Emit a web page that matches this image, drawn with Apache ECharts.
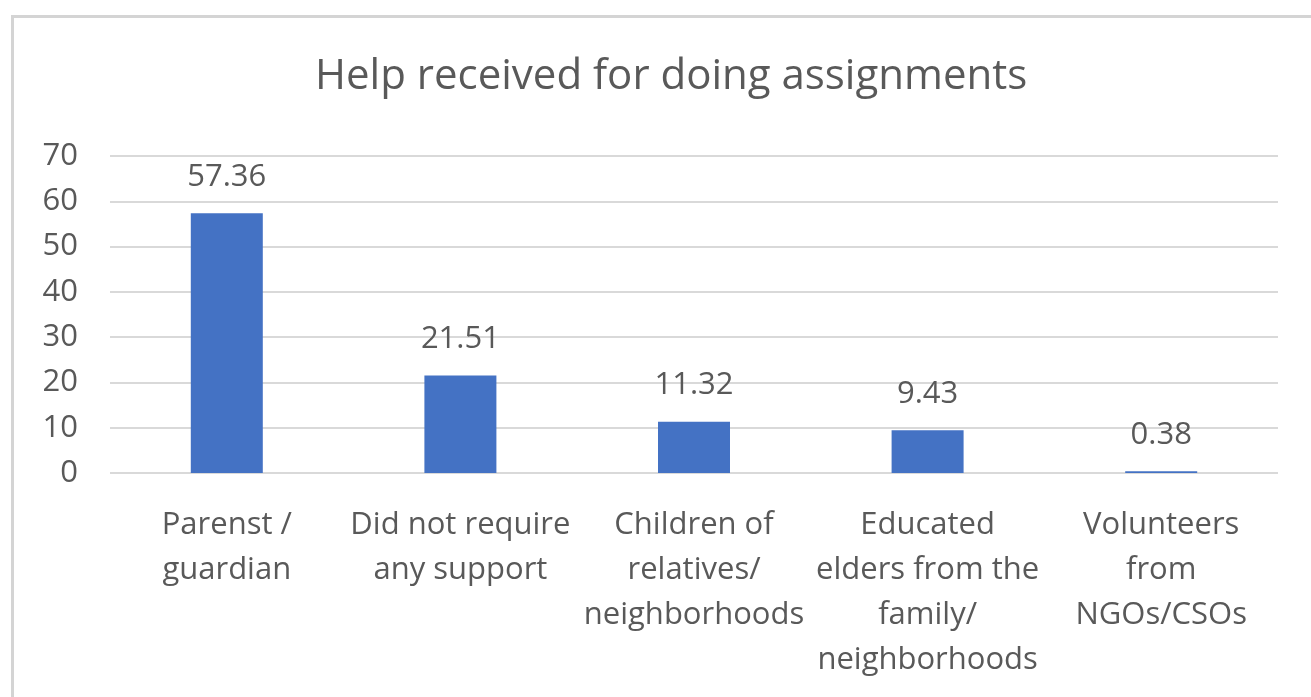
<!DOCTYPE html>
<html>
<head>
<meta charset="utf-8">
<script src="https://cdn.jsdelivr.net/npm/echarts@6/dist/echarts.min.js"></script>
<style>
  html, body { margin: 0; padding: 0; background: #ffffff; }
  #chart { width: 1311px; height: 697px; }
</style>
</head>
<body>
<div id="chart"></div>
<script>
// Who helped students with their assignments (% of respondents)
const categories = [
  'Parenst /\nguardian',
  'Did not require\nany support',
  'Children of\nrelatives/\nneighborhoods',
  'Educated\nelders from the\nfamily/\nneighborhoods',
  'Volunteers\nfrom\nNGOs/CSOs'
];
const shares = [57.36, 21.51, 11.32, 9.43, 0.38];
const yTicks = { min: 0, max: 70, interval: 10 };

const textColor = '#595959';
const fontFamily = '"Open Sans", Lato, sans-serif';

const chart = echarts.init(document.getElementById('chart'));
chart.setOption({
  backgroundColor: '#ffffff',
  animation: false,
  title: {
    text: 'Help received for doing assignments',
    left: 310,
    top: 51,
    textStyle: { color: textColor, fontFamily, fontSize: 42, fontWeight: 'normal' }
  },
  graphic: [{
    type: 'rect',
    left: 10, top: 14,
    shape: { width: 1330, height: 720 },
    style: { fill: 'none', stroke: '#d4d4d4', lineWidth: 3 },
    silent: true
  }],
  grid: { left: 110, right: 33, top: 156, bottom: 224 },
  xAxis: {
    type: 'category',
    data: categories,
    axisLine: { show: false },
    axisTick: { show: false },
    axisLabel: {
      color: textColor, fontFamily, fontSize: 31, lineHeight: 45,
      margin: 30, interval: 0, align: 'center'
    }
  },
  yAxis: {
    type: 'value',
    min: yTicks.min, max: yTicks.max, interval: yTicks.interval,
    axisLine: { show: false },
    axisTick: { show: false },
    axisLabel: { color: textColor, fontFamily, fontSize: 31, margin: 32 },
    splitLine: { lineStyle: { color: '#d9d9d9', width: 2 } }
  },
  series: [{
    type: 'bar',
    data: shares,
    barWidth: 72,
    itemStyle: { color: '#4472c4' },
    label: {
      show: true, position: 'top', distance: 21,
      color: textColor, fontFamily, fontSize: 31,
      formatter: p => p.value.toFixed(2)
    }
  }]
});
</script>
</body>
</html>
